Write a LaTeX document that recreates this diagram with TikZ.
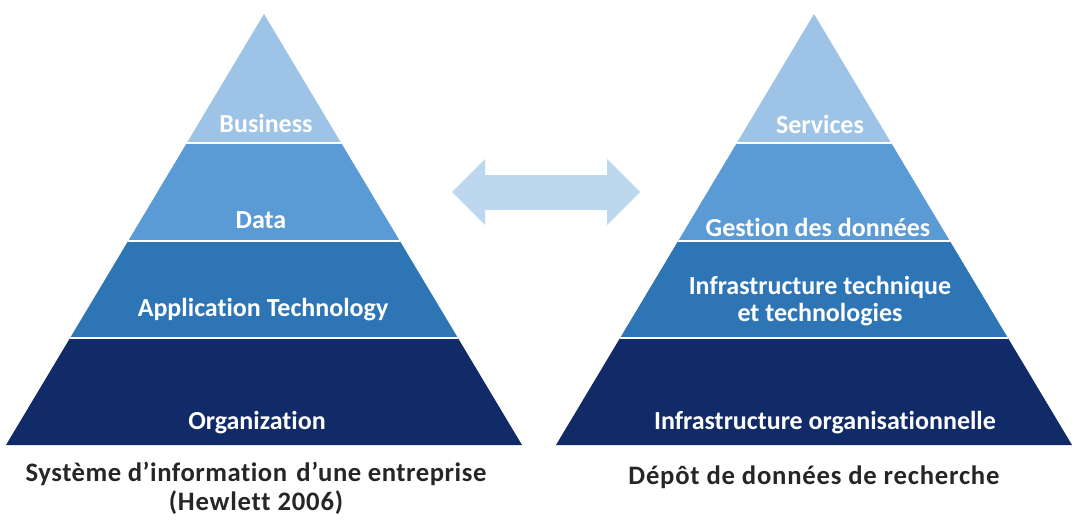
\documentclass[tikz,border=0pt]{standalone}
\usepackage{fontspec}
\setmainfont[Ligatures=NoCommon]{Carlito}

\definecolor{lvlone}{HTML}{9DC3E6}
\definecolor{lvltwo}{HTML}{5B9BD5}
\definecolor{lvlthree}{HTML}{2E75B6}
\definecolor{lvlfour}{HTML}{112A68}
\definecolor{arrowblue}{HTML}{BDD7EE}

\tikzset{
  lvltext/.style={text=white, font=\bfseries\fontsize{19.5}{22}\selectfont, align=center, inner sep=0pt},
  captext/.style={text=black!85, font=\bfseries\addfontfeatures{LetterSpace=3}\fontsize{20}{21.8}\selectfont, align=center, inner sep=0pt},
  gap/.style={draw=white, line width=1.6pt}
}

\begin{document}
\begin{tikzpicture}[x=0.75pt,y=-0.75pt]
  \useasboundingbox (0,0) rectangle (1075,525);

  % the two pyramids
  \foreach \cx in {264,814}{
    \begin{scope}
      \clip (\cx,14) -- (\cx-258,445) -- (\cx+258,445) -- cycle;
      \fill[lvlone]   (\cx-260,0)   rectangle (\cx+260,143);
      \fill[lvltwo]   (\cx-260,143) rectangle (\cx+260,241);
      \fill[lvlthree] (\cx-260,241) rectangle (\cx+260,338);
      \fill[lvlfour]  (\cx-260,338) rectangle (\cx+260,446);
      \draw[gap] (\cx-260,143) -- (\cx+260,143);
      \draw[gap] (\cx-260,241) -- (\cx+260,241);
      \draw[gap] (\cx-260,338) -- (\cx+260,338);
    \end{scope}
  }

  % left labels
  \node[lvltext] (business) at (266,123) {Business};
  \node[lvltext] (data) at (261,220) {Data};
  \node[lvltext] (apptech) at (263,310) {Application Technology};
  \node[lvltext] (organization) at (257,423) {Organization};

  % right labels
  \node[lvltext] (services) at (820,124) {Services};
  \node[lvltext] (gestion) at (818,227) {Gestion des donn\'ees};
  \node[lvltext] (infratech) at (820,301) {Infrastructure technique\\[-2pt]et technologies};
  \node[lvltext] (infraorg) at (825,423) {Infrastructure organisationnelle};

  % captions
  \node[captext] (leftcap) at (256,488) {\addfontfeatures{LetterSpace=2}Syst\`eme d’information\ \hspace{2pt}d’une entreprise\\(Hewlett 2006)};
  \node[captext] (rightcap) at (814,477) {D\'ep\^ot de donn\'ees de recherche};

  % double arrow between them
  \fill[arrowblue] (452,192) -- (485,159) -- (485,175) -- (607,175) -- (607,159)
    -- (640,192) -- (607,225) -- (607,210) -- (485,210) -- (485,225) -- cycle;
\end{tikzpicture}
\end{document}
